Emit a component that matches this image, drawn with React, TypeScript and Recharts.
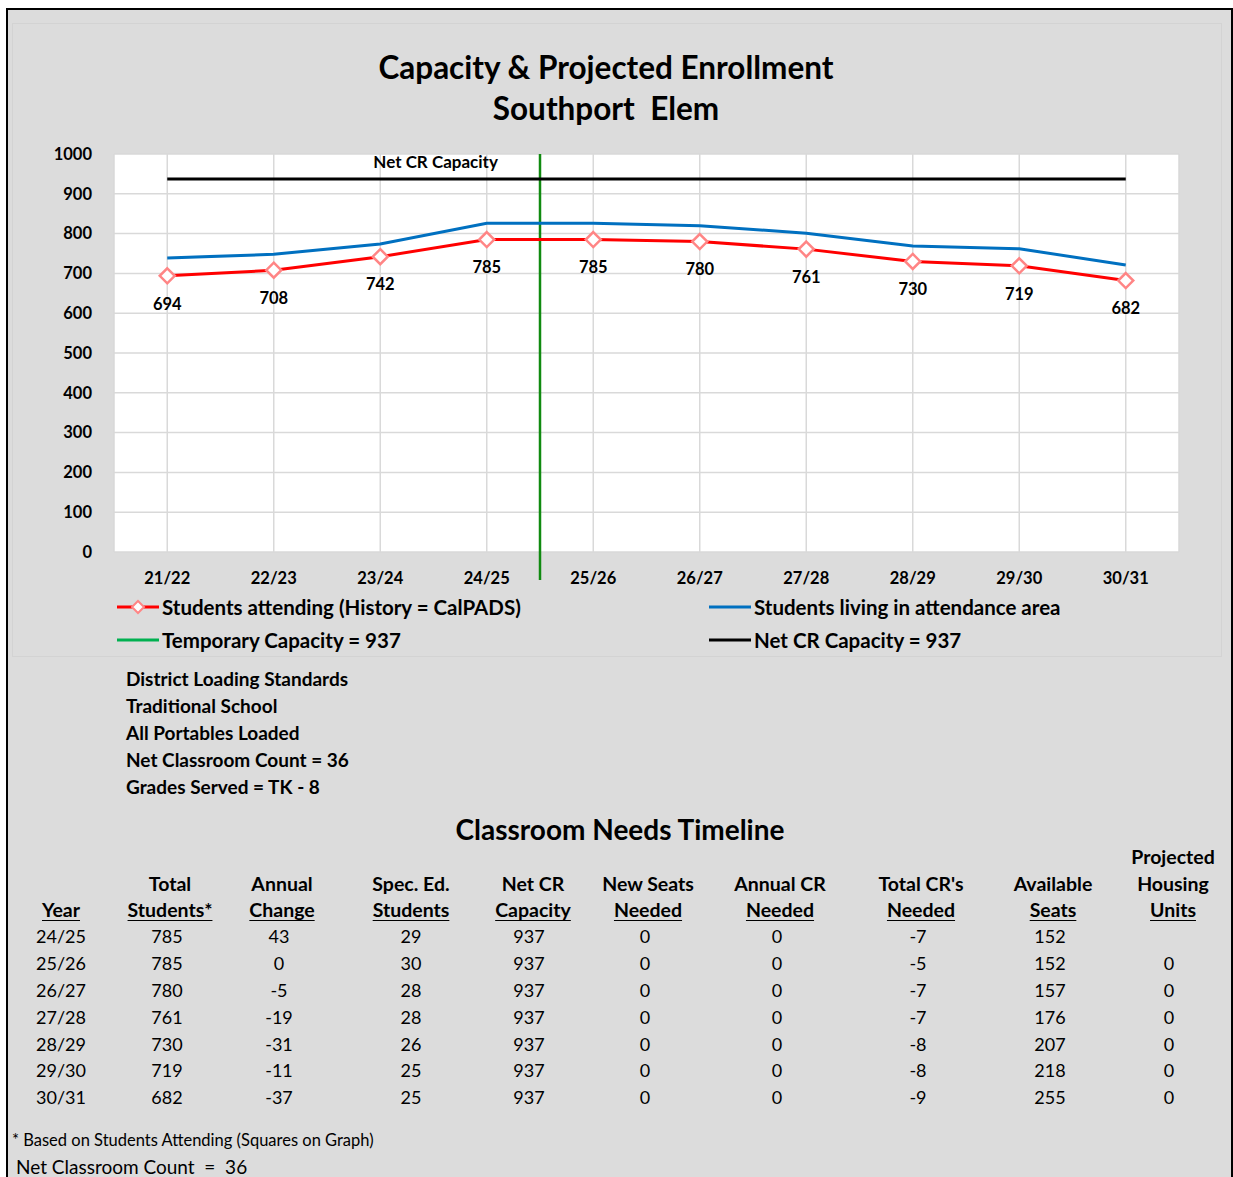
import React from 'react'
import { LineChart, Line, XAxis, YAxis, CartesianGrid, ReferenceLine, ReferenceDot, LabelList } from 'recharts'

const years = ['21/22', '22/23', '23/24', '24/25', '25/26', '26/27', '27/28', '28/29', '29/30', '30/31']
const attending = [694, 708, 742, 785, 785, 780, 761, 730, 719, 682]
const livingInArea = [739, 748, 774, 826, 826, 820, 801, 769, 762, 721]
const netCrCapacity = [937, 937, 937, 937, 937, 937, 937, 937, 937, 937]
const yTicks = [0, 100, 200, 300, 400, 500, 600, 700, 800, 900, 1000]

const standards = [
  'District Loading Standards',
  'Traditional School',
  'All Portables Loaded',
  'Net Classroom Count  = 36',
  'Grades Served = TK - 8',
]

const tableYears = ['24/25', '25/26', '26/27', '27/28', '28/29', '29/30', '30/31']
const totalStudents = [785, 785, 780, 761, 730, 719, 682]
const annualChange = [43, 0, -5, -19, -31, -11, -37]
const specEd = [29, 30, 28, 28, 26, 25, 25]
const netCr = [937, 937, 937, 937, 937, 937, 937]
const newSeats = [0, 0, 0, 0, 0, 0, 0]
const annualCr = [0, 0, 0, 0, 0, 0, 0]
const totalCrs = [-7, -5, -7, -7, -8, -8, -9]
const availableSeats = [152, 152, 157, 176, 207, 218, 255]
const housingUnits = ['', '0', '0', '0', '0', '0', '0']

const FONT = 'Lato, "Open Sans", sans-serif'

const chartData = years.map((y, i) => ({
  idx: i,
  year: y,
  attending: attending[i],
  living: livingInArea[i],
  netCR: netCrCapacity[i],
}))

const columns = [
  { head: ['', '', 'Year'], hx: 61, dx: 61, values: tableYears },
  { head: ['', 'Total', 'Students*'], hx: 170, dx: 167, values: totalStudents },
  { head: ['', 'Annual', 'Change'], hx: 282, dx: 279, values: annualChange },
  { head: ['', 'Spec. Ed.', 'Students'], hx: 411, dx: 411, values: specEd },
  { head: ['', 'Net CR', 'Capacity'], hx: 533, dx: 529, values: netCr },
  { head: ['', 'New Seats', 'Needed'], hx: 648, dx: 645, values: newSeats },
  { head: ['', 'Annual CR', 'Needed'], hx: 780, dx: 777, values: annualCr },
  { head: ['', "Total CR's", 'Needed'], hx: 921, dx: 918, values: totalCrs },
  { head: ['', 'Available', 'Seats'], hx: 1053, dx: 1050, values: availableSeats },
  { head: ['Projected', 'Housing', 'Units'], hx: 1173, dx: 1169, values: housingUnits },
]

function T({ x, y, size, bold, align = 'left', underline, children, color = '#000' }: any) {
  const h = size * 1.4
  const style: React.CSSProperties = {
    position: 'absolute',
    top: y - h / 2,
    left: x,
    lineHeight: h + 'px',
    height: h,
    fontSize: size,
    fontWeight: bold ? 700 : 400,
    whiteSpace: 'nowrap',
    color,
    textDecoration: underline ? 'underline' : 'none',
    textUnderlineOffset: 3,
    transform: align === 'center' ? 'translateX(-50%)' : 'none',
  }
  return <div style={style}>{children}</div>
}

function Diamond({ cx, cy }: any) {
  if (cx == null || cy == null) return null
  const r = 7.5
  return (
    <path
      d={`M${cx},${cy - r} L${cx + r},${cy} L${cx},${cy + r} L${cx - r},${cy} Z`}
      fill="#fff"
      stroke="#ff8585"
      strokeWidth={2.5}
    />
  )
}

function TempCapLine(props: any) {
  const { x1, y1, x2, y2 } = props
  const top = Math.min(y1, y2)
  const bottom = Math.max(y1, y2) + 28
  return <line x1={x1} y1={top} x2={x2} y2={bottom} stroke="#108a10" strokeWidth={2.5} />
}

function LegendItem({ x, y, color, label, diamond }: any) {
  return (
    <>
      <svg style={{ position: 'absolute', left: x, top: y - 8 }} width={44} height={16}>
        <line x1={1} y1={8} x2={43} y2={8} stroke={color} strokeWidth={3} />
        {diamond && <path d="M22,2 L28,8 L22,14 L16,8 Z" fill="#fff" stroke="#ff8585" strokeWidth={2} />}
      </svg>
      <T x={x + 46} y={y} size={20.5} bold>{label}</T>
    </>
  )
}

const tickStyle = { fontSize: 16.5, fontWeight: 700, fill: '#000', fontFamily: FONT }

export default function App() {
  return (
    <div style={{ position: 'absolute', left: 0, top: 0, width: 1233, height: 1177, overflow: 'hidden', fontFamily: FONT, background: '#fff' }}>
      <div
        style={{
          position: 'absolute', left: 6, top: 8, width: 1227, height: 1169,
          boxSizing: 'border-box', background: '#dcdcdc',
          borderLeft: '2px solid #000', borderTop: '2px solid #000', borderRight: '2px solid #000',
        }}
      />
      <div style={{ position: 'absolute', left: 12, top: 23, width: 1210, height: 634, border: '1px solid #d3d3d3', boxSizing: 'border-box' }} />

      <T x={606} y={67} size={31.5} bold align="center">Capacity &amp; Projected Enrollment</T>
      <T x={606} y={108} size={31.5} bold align="center">Southport&nbsp; Elem</T>

      <div style={{ position: 'absolute', left: 0, top: 0 }}>
        <LineChart width={1233} height={600} data={chartData} margin={{ top: 154, right: 54, left: 54, bottom: 18 }}>
          <CartesianGrid fill="#fff" stroke="#d9d9d9" strokeWidth={1.5} />
          <XAxis
            dataKey="idx"
            type="number"
            domain={[-0.5, 9.5]}
            ticks={years.map((_, i) => i)}
            tickFormatter={(v: number) => years[v]}
            axisLine={false}
            tickLine={false}
            tickSize={0}
            tickMargin={20}
            height={30}
            tick={tickStyle}
          />
          <YAxis
            domain={[0, 1000]}
            ticks={yTicks}
            axisLine={false}
            tickLine={false}
            tickSize={0}
            tickMargin={22}
            width={60}
            tick={tickStyle}
          />
          <ReferenceLine x={3.5} shape={<TempCapLine />} ifOverflow="visible" />
          <Line dataKey="netCR" stroke="#000" strokeWidth={3} dot={false} isAnimationActive={false} />
          <Line dataKey="living" stroke="#0070c0" strokeWidth={3} dot={false} isAnimationActive={false} />
          <Line dataKey="attending" stroke="#ff0000" strokeWidth={3} dot={<Diamond />} isAnimationActive={false}>
            <LabelList dataKey="attending" position="bottom" offset={22} style={tickStyle} />
          </Line>
          <ReferenceDot
            x={2.52}
            y={1000}
            r={0}
            stroke="none"
            label={{ value: 'Net CR Capacity', position: 'bottom', offset: 2, style: { fontSize: 17, fontWeight: 700, fill: '#000', fontFamily: FONT } }}
          />
        </LineChart>
      </div>

      <LegendItem x={116} y={607} color="#ff0000" label="Students attending (History = CalPADS)" diamond />
      <LegendItem x={708} y={607} color="#0070c0" label="Students living in attendance area" />
      <LegendItem x={116} y={640} color="#00b050" label="Temporary Capacity = 937" />
      <LegendItem x={708} y={640} color="#000" label="Net CR Capacity = 937" />

      {standards.map((s, i) => (
        <T key={s} x={126} y={679 + i * 27} size={19} bold>{s}</T>
      ))}

      <T x={620} y={830} size={28} bold align="center">Classroom Needs Timeline</T>

      {columns.map((c, ci) => (
        <React.Fragment key={ci}>
          {c.head.map((h, hi) =>
            h ? (
              <T key={'h' + hi} x={c.hx} y={857 + hi * 26.5} size={19.5} bold align="center" underline={hi === 2}>{h}</T>
            ) : null,
          )}
          {c.values.map((v, ri) => (
            <T key={'v' + ri} x={c.dx} y={937 + ri * 26.8} size={18} align="center">{v}</T>
          ))}
        </React.Fragment>
      ))}

      <T x={12} y={1141} size={16.5}>* Based on Students Attending (Squares on Graph)</T>
      <T x={16} y={1167} size={19}>Net Classroom Count&nbsp; =&nbsp; 36</T>
    </div>
  )
}
